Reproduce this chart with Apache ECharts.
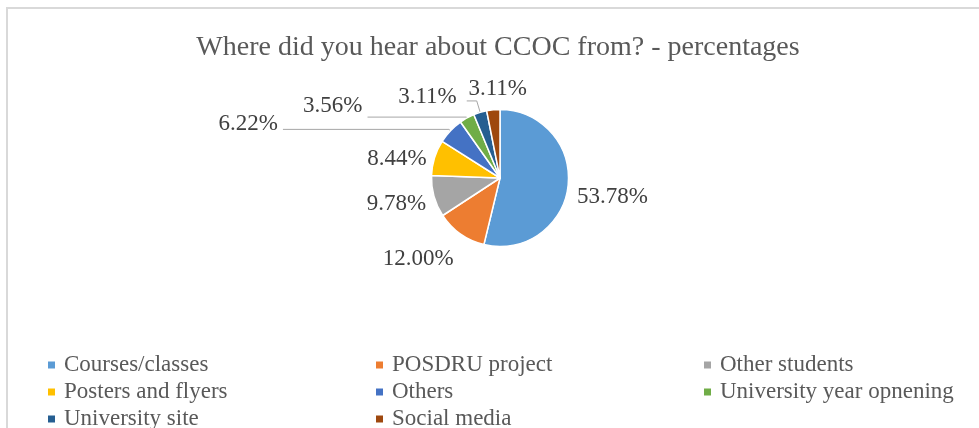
<!DOCTYPE html>
<html>
<head>
<meta charset="utf-8">
<script src="https://cdn.jsdelivr.net/npm/echarts@6/dist/echarts.min.js"></script>
<style>
  html, body { margin: 0; padding: 0; background: #ffffff; }
  #chart { width: 979px; height: 428px; }
</style>
</head>
<body>
<div id="chart"></div>
<script>
// Survey answers: where respondents heard about CCOC (share of 225 answers)
const categories = [
  'Courses/classes', 'POSDRU project', 'Other students', 'Posters and flyers',
  'Others', 'University year opnening', 'University site', 'Social media'
];
const values = [53.78, 12.00, 9.78, 8.44, 6.22, 3.56, 3.11, 3.11];
const colors = ['#5B9BD5', '#ED7D31', '#A5A5A5', '#FFC000', '#4472C4', '#70AD47', '#255E91', '#9E480E'];

// Legend columns (row-major order in three columns)
const legendColumns = [
  ['Courses/classes', 'Posters and flyers', 'University site'],
  ['POSDRU project', 'Others', 'Social media'],
  ['Other students', 'University year opnening']
];
const legendLefts = [46, 374, 702];

// Label placement tweaks per slice
const lineShown = [false, false, false, false, true, true, true, false];
const lineLen = [3, 3, 3, 3, 2, 1, 12, 3];
const lineLen2 = [0, 0, 0, 0, 166, 99, 10, 0];
const labelShift = [[1, 10], [0, 23], [0, 7], [0, 2], [0, -5], [0, -11], [-5, -4], [39, -18]];

const serif = '"Liberation Serif", "Times New Roman", serif';

const pieData = categories.map((name, i) => ({
  name: name,
  value: values[i],
  itemStyle: { color: colors[i] },
  labelLine: { show: lineShown[i], length: lineLen[i], length2: lineLen2[i] }
}));

const chart = echarts.init(document.getElementById('chart'), null, { renderer: 'canvas' });

chart.setOption({
  animation: false,
  backgroundColor: '#ffffff',
  title: {
    text: 'Where did you hear about CCOC from? - percentages',
    left: 493,
    textAlign: 'center',
    top: 29,
    textStyle: { fontFamily: serif, fontSize: 28, fontWeight: 'normal', color: '#595959' }
  },
  legend: legendColumns.map((col, k) => ({
    data: col,
    orient: 'vertical',
    left: legendLefts[k],
    top: 351.5,
    height: 90,
    padding: 0,
    itemGap: 0,
    itemWidth: 15,
    itemHeight: 9,
    icon: 'path://M0,0H7V7H0Z',
    selectedMode: false,
    textStyle: { fontFamily: serif, fontSize: 23, lineHeight: 27, color: '#595959' }
  })),
  graphic: [{
    type: 'rect',
    shape: { x: 7, y: 8, width: 1100, height: 600 },
    style: { fill: 'none', stroke: '#d9d9d9', lineWidth: 2 },
    silent: true,
    z: -1
  }],
  series: [{
    type: 'pie',
    center: [500, 178],
    radius: 68.5,
    startAngle: 90,
    clockwise: true,
    avoidLabelOverlap: false,
    itemStyle: { borderColor: '#ffffff', borderWidth: 1.5 },
    label: {
      position: 'outside',
      fontFamily: serif,
      fontSize: 23,
      color: '#404040',
      formatter: p => p.value.toFixed(2) + '%'
    },
    labelLine: { lineStyle: { color: '#a6a6a6', width: 1 } },
    labelLayout: p => {
      const s = labelShift[p.dataIndex];
      return { dx: s[0], dy: s[1] };
    },
    emphasis: { disabled: true },
    data: pieData
  }]
});
</script>
</body>
</html>
